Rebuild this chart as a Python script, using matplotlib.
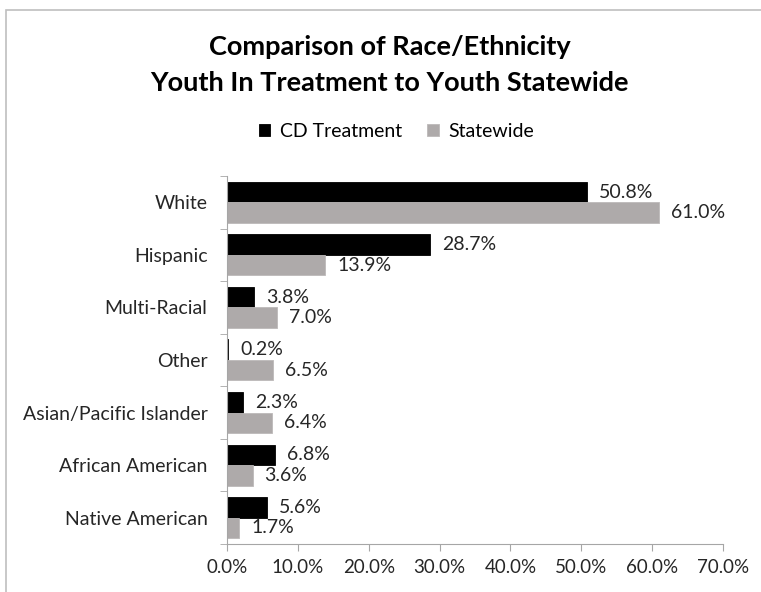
import matplotlib.pyplot as plt
import numpy as np
from matplotlib.patches import Rectangle
from matplotlib.ticker import FixedLocator

categories = ["White", "Hispanic", "Multi-Racial", "Other",
              "Asian/Pacific Islander", "African American", "Native American"]
cd_treatment = [50.8, 28.7, 3.8, 0.2, 2.3, 6.8, 5.6]
statewide = [61.0, 13.9, 7.0, 6.5, 6.4, 3.6, 1.7]
x_ticks = [0, 10, 20, 30, 40, 50, 60, 70]

plt.rcParams['font.family'] = ['Lato', 'DejaVu Sans']

fig = plt.figure(figsize=(7.61, 5.92), dpi=100)
ax = fig.add_axes([0.2983, 0.0811, 0.6517, 0.6216])

# chart border
fig.patches.append(Rectangle((0.008, -0.1), 1.2, 1.083, transform=fig.transFigure,
                             fill=False, edgecolor='#bfbfbf', linewidth=1.2))

y = np.arange(len(categories))
h = 0.39
ax.barh(y - h / 2, cd_treatment, height=h, color='black', edgecolor='black',
        linewidth=0.6, label='CD Treatment')
ax.barh(y + h / 2, statewide, height=h, color='#aeaaaa', edgecolor='#bcb9b9',
        linewidth=0.6, label='Statewide')

for yi, v in zip(y, cd_treatment):
    ax.text(v + 1.7, yi - h / 2, f"{v:.1f}%", va='center', ha='left', fontsize=14, color='#262626')
for yi, v in zip(y, statewide):
    ax.text(v + 1.7, yi + h / 2, f"{v:.1f}%", va='center', ha='left', fontsize=14, color='#262626')

ax.set_xlim(0, 70)
ax.set_ylim(len(categories) - 0.5, -0.5)
ax.set_xticks(x_ticks)
ax.set_xticklabels([f"{t:.1f}%" for t in x_ticks], fontsize=13.5, color='#262626')
ax.set_yticks(y)
ax.set_yticklabels(categories, fontsize=14, color='#262626')
ax.yaxis.set_minor_locator(FixedLocator(np.arange(-0.5, len(categories), 1)))
ax.tick_params(axis='y', which='major', length=0, pad=14)
ax.tick_params(axis='y', which='minor', length=5, color='#a6a6a6')
ax.tick_params(axis='x', length=5, color='#a6a6a6', pad=6)

for s in ['top', 'right']:
    ax.spines[s].set_visible(False)
for s in ['left', 'bottom']:
    ax.spines[s].set_color('#a6a6a6')

fig.text(0.512, 0.921, "Comparison of Race/Ethnicity", ha='center', va='center',
         fontsize=19.5, fontweight='bold', color='black')
fig.text(0.512, 0.860, "Youth In Treatment to Youth Statewide", ha='center', va='center',
         fontsize=19.5, fontweight='bold', color='black')

fig.legend(loc='center', bbox_to_anchor=(0.521, 0.778), ncol=2, frameon=False,
           fontsize=14, handlelength=0.6, handleheight=0.6, columnspacing=1.3,
           handletextpad=0.5)

fig.savefig("out.png", dpi=100)
